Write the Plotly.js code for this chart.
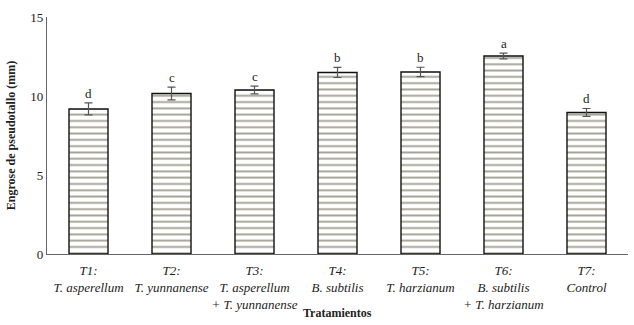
<!DOCTYPE html>
<html>
<head>
<meta charset="utf-8">
<script src="https://cdn.plot.ly/plotly-3.0.1.min.js"></script>
<style>body{margin:0;background:#fff}#plot{width:634px;height:325px}</style>
</head>
<body>
<div id="plot"></div>
<script>
// Tratamientos y valores
let tratamientos = ["T1", "T2", "T3", "T4", "T5", "T6", "T7"];
let etiquetas = [
  "<i>T1:<br>T. asperellum</i>",
  "<i>T2:<br>T. yunnanense</i>",
  "<i>T3:<br>T. asperellum<br>+ T. yunnanense</i>",
  "<i>T4:<br>B. subtilis</i>",
  "<i>T5:<br>T. harzianum</i>",
  "<i>T6:<br>B. subtilis<br>+ T. harzianum</i>",
  "<i>T7:<br>Control</i>"
];
let engrose = [9.18, 10.16, 10.38, 11.49, 11.52, 12.53, 8.96];
let error = [0.38, 0.4, 0.25, 0.32, 0.3, 0.18, 0.25];
let letras = ["d", "c", "c", "b", "b", "a", "d"];

let serif = "Liberation Serif";

let barras = {
  x: tratamientos,
  y: engrose,
  type: "bar",
  width: 0.47,
  marker: {
    color: "#ffffff",
    line: {color: "#111111", width: 1.4},
    pattern: {shape: "-", fgcolor: "#a2a296", bgcolor: "#ffffff", size: 6.3, solidity: 0.3}
  },
  error_y: {type: "data", array: error, visible: true, color: "#555555", thickness: 1.2, width: 4},
  hoverinfo: "skip"
};

// letras de significancia encima de las barras de error
let letrasAnot = tratamientos.map((t, i) => ({
  x: t,
  y: engrose[i] + error[i],
  text: letras[i],
  showarrow: false,
  yanchor: "bottom",
  font: {family: serif, size: 13, color: "#222222"}
}));

// titulo del eje x como anotacion para ajustar su altura
letrasAnot.push({
  xref: "paper", yref: "paper", x: 0.5, y: -0.25, yanchor: "middle",
  text: "<b>Tratamientos</b>", showarrow: false,
  font: {family: serif, size: 12, color: "#222"}
});

let layout = {
  width: 634,
  height: 325,
  margin: {l: 47, r: 6, t: 17, b: 71},
  paper_bgcolor: "#fff",
  plot_bgcolor: "#fff",
  showlegend: false,
  font: {family: serif, size: 13, color: "#222"},
  annotations: letrasAnot,
  xaxis: {
    tickvals: tratamientos,
    ticktext: etiquetas,
    showline: true,
    linecolor: "#666",
    linewidth: 1.2,
    ticks: "outside",
    ticklen: 4,
    tickcolor: "rgba(0,0,0,0)",
    showgrid: false,
    tickfont: {family: serif, size: 13, color: "#222"}
  },
  yaxis: {
    range: [0, 15],
    tickvals: [0, 5, 10, 15],
    showline: true,
    linecolor: "#666",
    linewidth: 1.2,
    ticks: "",
    showgrid: false,
    zeroline: false,
    tickfont: {family: serif, size: 13, color: "#222"},
    title: {text: "<b>Engrose de pseudotallo (mm)</b>", font: {family: serif, size: 12, color: "#222"}, standoff: 12}
  }
};

Plotly.newPlot("plot", [barras], layout, {displayModeBar: false, staticPlot: true});
</script>
</body>
</html>
